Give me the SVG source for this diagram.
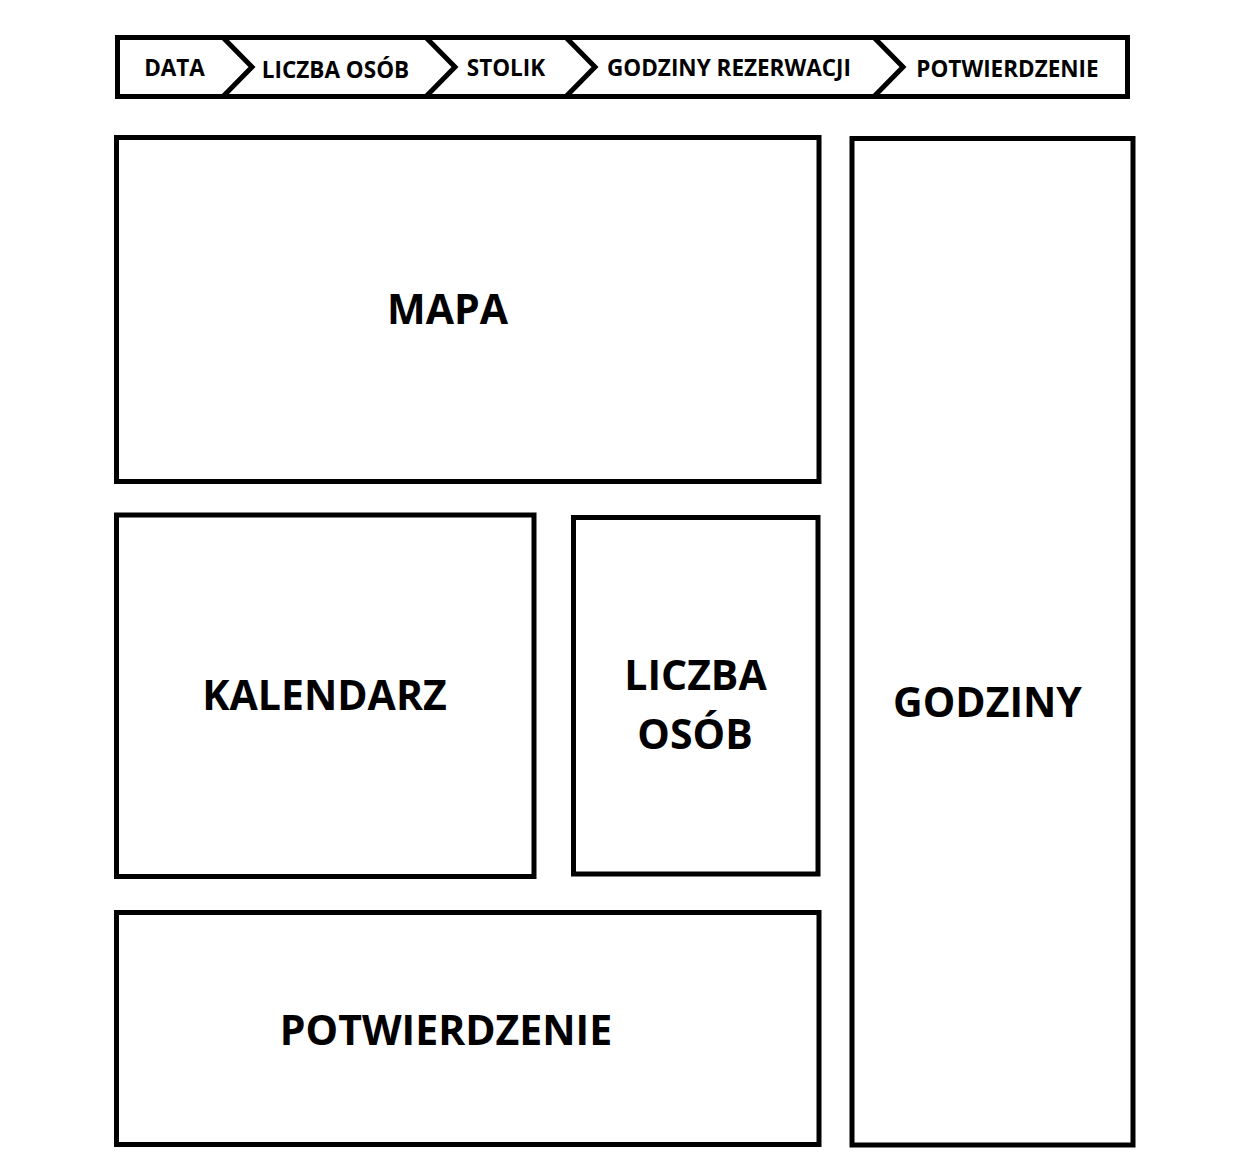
<svg xmlns="http://www.w3.org/2000/svg" width="1252" height="1172" viewBox="0 0 1252 1172">
<style>
.box{fill:#fff;stroke:#000;stroke-width:5}
.chev{fill:none;stroke:#000;stroke-width:5;stroke-linejoin:miter}
.s{font-family:"Open Sans","Liberation Sans",sans-serif;font-weight:bold;font-size:22.5px;fill:#000;text-anchor:middle}
.b{font-family:"Open Sans","Liberation Sans",sans-serif;font-weight:bold;font-size:41px;fill:#000;text-anchor:middle}
</style>
<rect width="1252" height="1172" fill="#fff"/>
<g id="steps">
<rect class="box" x="117.5" y="37.5" width="1010" height="59"/>
<g id="connectors">
<polyline class="chev" points="223,37.5 252,67 223,96.5"/>
<polyline class="chev" points="426,37.5 455,67 426,96.5"/>
<polyline class="chev" points="566,37.5 595,67 566,96.5"/>
<polyline class="chev" points="874,37.5 903,67 874,96.5"/>
</g>
<text class="s" x="174.5" y="76">DATA</text>
<text class="s" x="335.5" y="78">LICZBA OSÓB</text>
<text class="s" x="506" y="76">STOLIK</text>
<text class="s" x="729" y="76">GODZINY REZERWACJI</text>
<text class="s" x="1007.5" y="77">POTWIERDZENIE</text>
</g>
<g id="mapa">
<rect class="box" x="116.5" y="137.5" width="702.5" height="344"/>
<text class="b" x="447.5" y="324">MAPA</text>
</g>
<g id="kalendarz">
<rect class="box" x="116.5" y="515" width="417.5" height="361.5"/>
<text class="b" x="324.5" y="710">KALENDARZ</text>
</g>
<g id="liczba-osob">
<rect class="box" x="573.5" y="517.5" width="244.5" height="356.5"/>
<text class="b" x="695.5" y="690">LICZBA</text>
<text class="b" x="695" y="749">OSÓB</text>
</g>
<g id="potwierdzenie">
<rect class="box" x="116.5" y="912.5" width="702.5" height="232"/>
<text class="b" x="446" y="1045">POTWIERDZENIE</text>
</g>
<g id="godziny">
<rect class="box" x="852" y="138.5" width="281" height="1006.5"/>
<text class="b" x="987.5" y="717">GODZINY</text>
</g>
</svg>
